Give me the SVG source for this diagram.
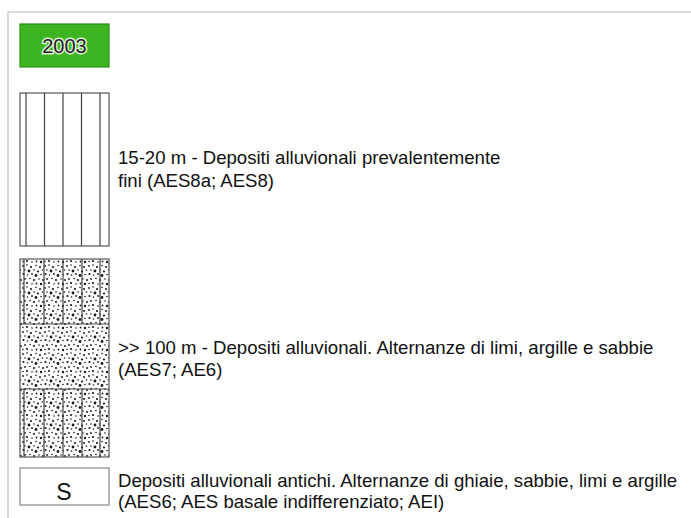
<svg xmlns="http://www.w3.org/2000/svg" width="691" height="518" viewBox="0 0 691 518">
<style>
.frame{stroke:#cfcfcf;stroke-width:1.5;fill:none}
.box{fill:#fff;stroke:#555;stroke-width:1.2}
.ln{stroke:#444;stroke-width:1.2}
.lbl{font-family:"Liberation Sans",Arial,sans-serif;font-size:18.6px;fill:#111}
.yr{font-family:"Liberation Sans",Arial,sans-serif;font-size:20px;fill:#222;stroke:#dff0d5;stroke-width:3;paint-order:stroke;text-anchor:middle}
</style>
<defs>
<pattern id="dots" patternUnits="userSpaceOnUse" width="22" height="22">
<rect width="22" height="22" fill="#fff"/>
<g fill="#1a1a1a">
<circle cx="1" cy="2" r="0.9"/><circle cx="5" cy="1" r="0.8"/><circle cx="9" cy="3" r="1.1"/><circle cx="14" cy="1.5" r="0.8"/><circle cx="18" cy="3" r="1"/>
<circle cx="3" cy="6" r="0.8"/><circle cx="7" cy="7" r="1.4"/><circle cx="12" cy="6" r="0.8"/><circle cx="16" cy="7.5" r="1.1"/><circle cx="20.5" cy="6" r="0.8"/>
<circle cx="1.5" cy="10" r="1.1"/><circle cx="5.5" cy="11" r="0.8"/><circle cx="10" cy="10" r="0.9"/><circle cx="14" cy="11.5" r="1.4"/><circle cx="19" cy="10.5" r="0.8"/>
<circle cx="3" cy="15" r="0.9"/><circle cx="8" cy="14.5" r="0.8"/><circle cx="12" cy="16" r="1.1"/><circle cx="17" cy="15" r="0.8"/><circle cx="21" cy="16" r="1"/>
<circle cx="1" cy="19.5" r="0.8"/><circle cx="5" cy="19" r="1.1"/><circle cx="10" cy="20" r="0.8"/><circle cx="14.5" cy="19.5" r="0.9"/><circle cx="19" cy="20" r="1.2"/>
</g>
</pattern>
</defs>
<path class="frame" d="M8,518 V12 H691"/>
<g id="year">
<rect x="20" y="24" width="89" height="43" fill="#3cb521" stroke="#2e8f1b" stroke-width="1.2"/>
<text class="yr" x="64.5" y="53">2003</text>
</g>
<g id="aes8">
<rect class="box" x="20" y="93" width="89" height="153"/>
<g class="ln"><line x1="26" y1="93" x2="26" y2="246"/><line x1="44.5" y1="93" x2="44.5" y2="246"/><line x1="63" y1="93" x2="63" y2="246"/><line x1="81.5" y1="93" x2="81.5" y2="246"/><line x1="100" y1="93" x2="100" y2="246"/></g>
<text class="lbl" x="118" y="164">15-20 m - Depositi alluvionali prevalentemente</text>
<text class="lbl" x="118" y="187">fini (AES8a; AES8)</text>
</g>
<g id="aes7">
<rect x="20" y="259" width="89" height="198" fill="url(#dots)" stroke="#555" stroke-width="1.2"/>
<g class="ln"><line x1="20" y1="324" x2="109" y2="324"/><line x1="20" y1="389" x2="109" y2="389"/>
<line x1="24" y1="259" x2="24" y2="324"/><line x1="44" y1="259" x2="44" y2="324"/><line x1="63" y1="259" x2="63" y2="324"/><line x1="82" y1="259" x2="82" y2="324"/><line x1="100" y1="259" x2="100" y2="324"/>
<line x1="24" y1="389" x2="24" y2="457"/><line x1="44" y1="389" x2="44" y2="457"/><line x1="63" y1="389" x2="63" y2="457"/><line x1="82" y1="389" x2="82" y2="457"/><line x1="100" y1="389" x2="100" y2="457"/></g>
<text class="lbl" x="118" y="354">&gt;&gt; 100 m - Depositi alluvionali. Alternanze di limi, argille e sabbie</text>
<text class="lbl" x="118" y="376">(AES7; AE6)</text>
</g>
<g id="aes6">
<rect x="20" y="468" width="89" height="37" fill="#fff" stroke="#888" stroke-width="1.2"/>
<text x="64" y="500" font-family="Liberation Sans,Arial,sans-serif" font-size="23" fill="#111" text-anchor="middle">S</text>
<text class="lbl" x="118" y="487">Depositi alluvionali antichi. Alternanze di ghiaie, sabbie, limi e argille</text>
<text class="lbl" x="118" y="508">(AES6; AES basale indifferenziato; AEI)</text>
</g>
</svg>
